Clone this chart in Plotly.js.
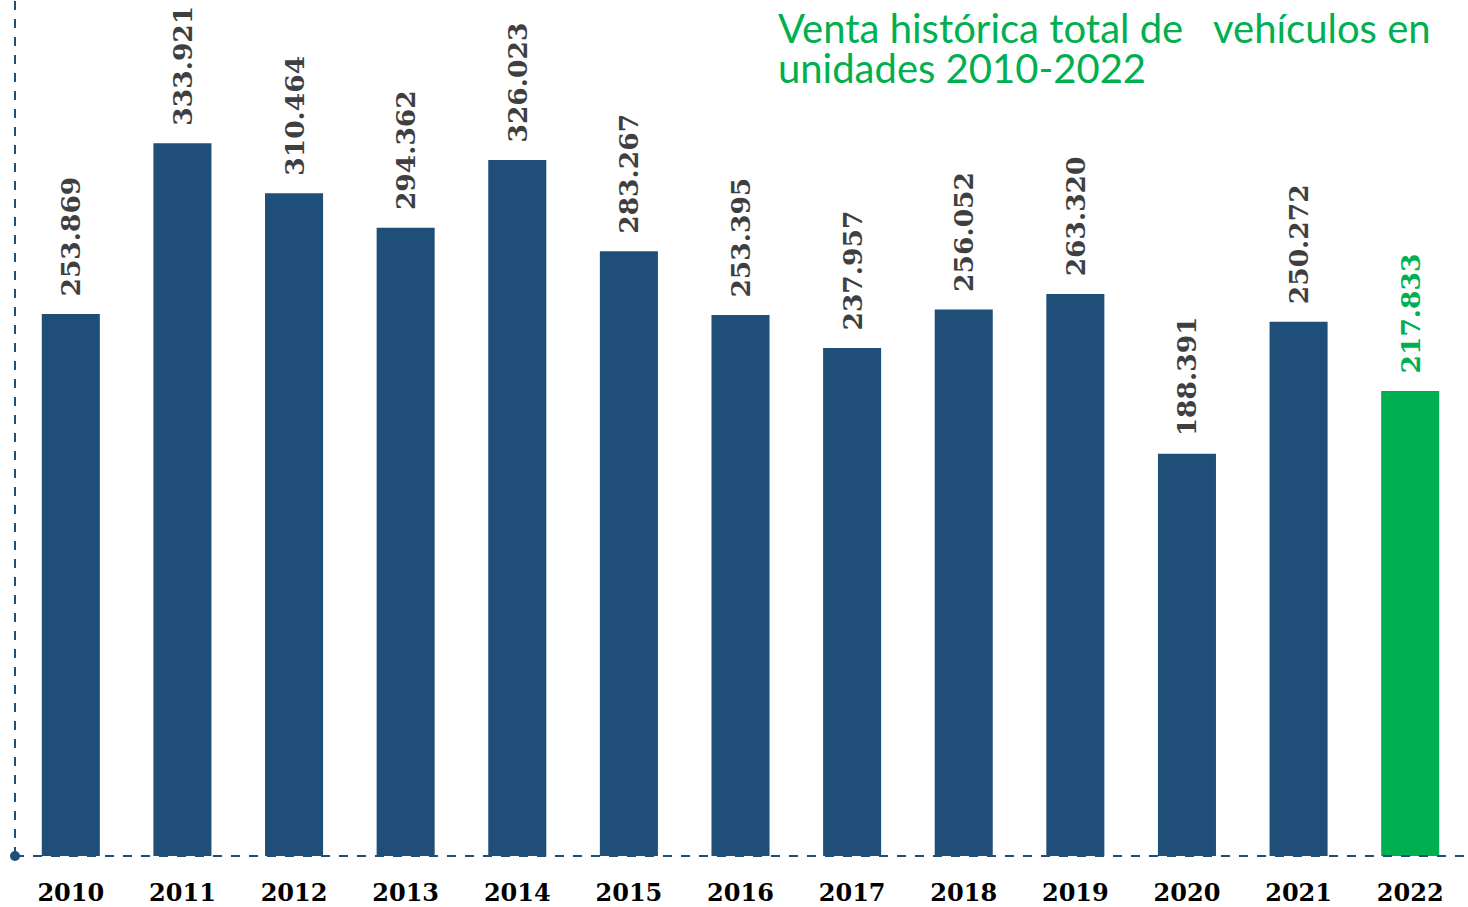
<!DOCTYPE html>
<html>
<head>
<meta charset="utf-8">
<script src="https://cdn.plot.ly/plotly-3.0.1.min.js"></script>
<style>html,body{margin:0;padding:0;background:#fff;}#chart{width:1468px;height:907px;}</style>
</head>
<body>
<div id="chart"></div>
<script>
const years = ["2010","2011","2012","2013","2014","2015","2016","2017","2018","2019","2020","2021","2022"];
const units = [253869, 333921, 310464, 294362, 326023, 283267, 253395, 237957, 256052, 263320, 188391, 250272, 217833];
const highlightYear = "2022";
const titleLines = ["Venta histórica total de &nbsp; vehículos en", "unidades 2010-2022"];

const BLUE = "#1F4E79", GREEN = "#00B050", LABEL = "#3F3F3F";
const barColors = years.map(y => y === highlightYear ? GREEN : BLUE);
const labelColors = years.map(y => y === highlightYear ? GREEN : LABEL);

const trace = {
  type: "bar",
  x: years,
  y: units,
  marker: {color: barColors},
  texttemplate: "\u00a0\u202f%{y:,.0f}",
  textposition: "outside",
  textangle: -90,
  constraintext: "none",
  cliponaxis: false,
  textfont: {family: "DejaVu Serif", size: 26.5, color: labelColors, weight: "bold"},
  hoverinfo: "none"
};

const titleAnnotations = titleLines.map((t, i) => ({
  xref: "paper", yref: "paper",
  x: (776 - 15) / 1451, y: 1,
  xanchor: "left", yanchor: "top",
  yshift: -2 - i * 40,
  showarrow: false,
  text: t,
  font: {family: "Lato", size: 40, color: GREEN}
}));

const layout = {
  width: 1468, height: 907,
  margin: {l: 15, r: 2, t: 0, b: 51},
  separators: ",.",
  paper_bgcolor: "#fff", plot_bgcolor: "#fff",
  bargap: 0.48,
  showlegend: false,
  xaxis: {
    type: "category",
    showgrid: false, zeroline: false, showline: false,
    ticks: "",
    ticklabelstandoff: 20,
    tickfont: {family: "DejaVu Serif", size: 24, color: "#000", weight: "bold"}
  },
  yaxis: {
    range: [0, 401000],
    showgrid: false, zeroline: false, showline: false,
    showticklabels: false, ticks: ""
  },
  annotations: titleAnnotations,
  shapes: [
    {type: "line", xref: "paper", yref: "paper", x0: 0, x1: 0, y0: 0, y1: 1,
     line: {color: BLUE, width: 2, dash: "dash"}},
    {type: "line", xref: "paper", yref: "paper", x0: 0, x1: 1, y0: 0, y1: 0,
     line: {color: BLUE, width: 2, dash: "dash"}},
    {type: "circle", xref: "paper", yref: "paper", xsizemode: "pixel", ysizemode: "pixel",
     xanchor: 0, yanchor: 0, x0: -5, x1: 5, y0: -5, y1: 5,
     fillcolor: BLUE, line: {width: 0}}
  ]
};

Plotly.newPlot("chart", [trace], layout, {displayModeBar: false, staticPlot: true});
</script>
</body>
</html>
